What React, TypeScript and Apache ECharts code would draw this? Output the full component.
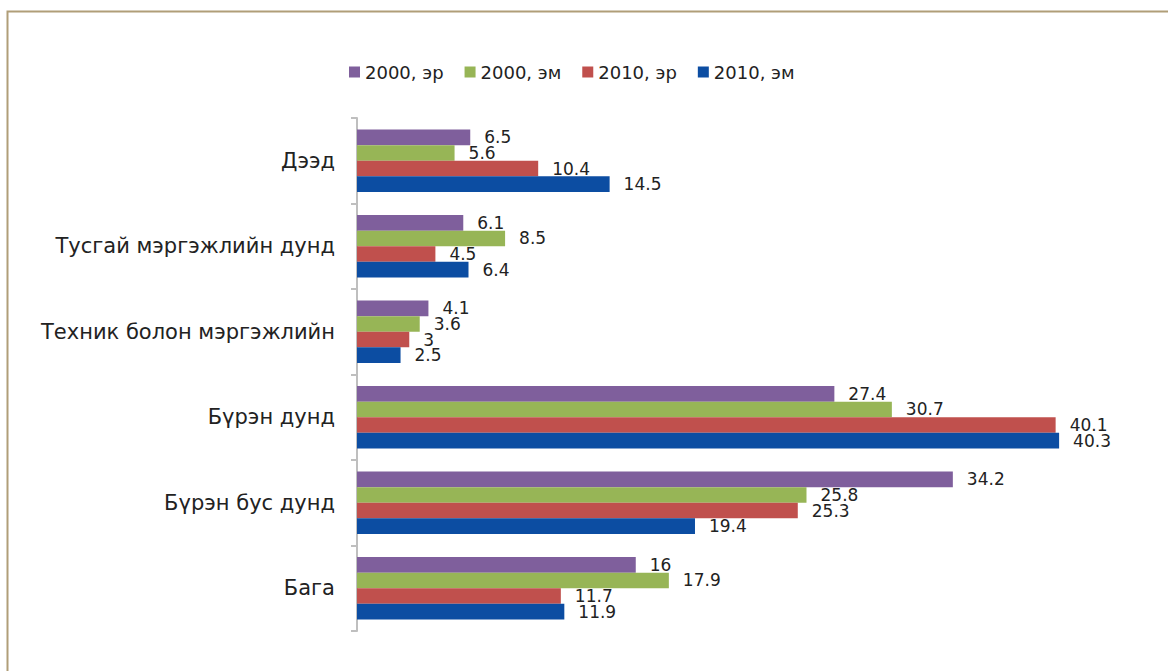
import React, { useEffect, useRef } from "react";
import * as echarts from "echarts";

const categories = [
  "Дээд",
  "Тусгай мэргэжлийн дунд",
  "Техник болон мэргэжлийн",
  "Бүрэн дунд",
  "Бүрэн бус дунд",
  "Бага",
];
const seriesNames = ["2000, эр", "2000, эм", "2010, эр", "2010, эм"];
const male2000 = [6.5, 6.1, 4.1, 27.4, 34.2, 16];
const female2000 = [5.6, 8.5, 3.6, 30.7, 25.8, 17.9];
const male2010 = [10.4, 4.5, 3, 40.1, 25.3, 11.7];
const female2010 = [14.5, 6.4, 2.5, 40.3, 19.4, 11.9];
const colors = ["#7f5f9c", "#97b556", "#c0504d", "#0c4da2"];

const FONT = "'DejaVu Sans', sans-serif";

export default function App() {
  const ref = useRef<HTMLDivElement>(null);
  useEffect(() => {
    if (!ref.current) return;
    const chart = echarts.init(ref.current, null, { renderer: "svg" });
    const values = [male2000, female2000, male2010, female2010];
    chart.setOption({
      animation: false,
      backgroundColor: "#ffffff",
      textStyle: { fontFamily: FONT },
      graphic: [
        {
          type: "rect",
          shape: { x: 7.5, y: 11.5, width: 1300, height: 800 },
          style: { fill: "none", stroke: "#b09e78", lineWidth: 2 },
          silent: true,
        },
      ],
      legend: {
        top: 58,
        left: 344,
        itemWidth: 11,
        itemHeight: 11,
        itemGap: 21,
        icon: "rect",
        textStyle: { fontSize: 18, color: "#222", fontFamily: FONT },
        data: seriesNames,
      },
      grid: { left: 357, right: 27, top: 118, bottom: 40, containLabel: false },
      xAxis: {
        type: "value",
        min: 0,
        max: 45,
        show: false,
        splitLine: { show: false },
      },
      yAxis: {
        type: "category",
        inverse: true,
        data: categories,
        axisLine: { show: true, lineStyle: { color: "#bfbfbf", width: 2 } },
        axisTick: { show: true, length: 6, lineStyle: { color: "#bfbfbf", width: 2 } },
        axisLabel: { fontSize: 21, color: "#222", margin: 22, fontFamily: FONT },
      },
      series: seriesNames.map((name, i) => ({
        name,
        type: "bar",
        data: values[i],
        barGap: "0%",
        barCategoryGap: "27%",
        itemStyle: { color: colors[i] },
        label: {
          show: true,
          position: "right",
          distance: 14,
          fontSize: 17,
          color: "#222",
          fontFamily: FONT,
        },
      })),
    });
    return () => chart.dispose();
  }, []);
  return (
    <div
      ref={ref}
      style={{ position: "fixed", left: 0, top: 0, width: 1168, height: 671 }}
    />
  );
}
